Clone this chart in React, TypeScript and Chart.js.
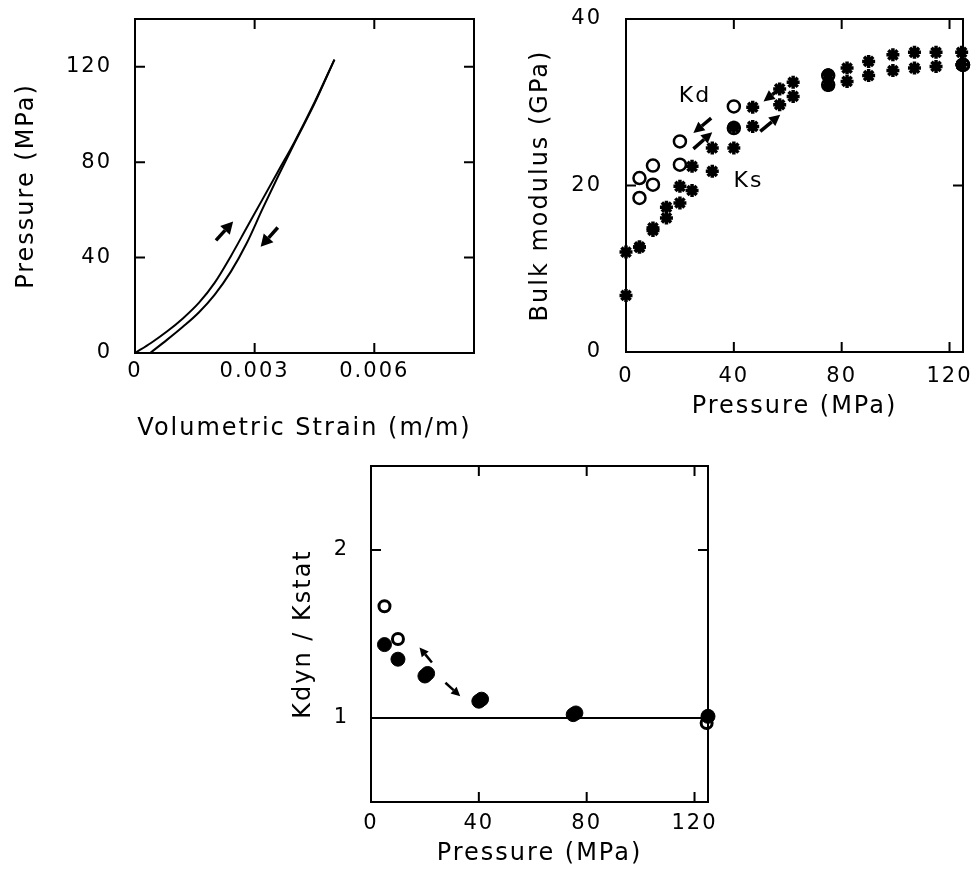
import React, { useEffect, useRef } from "react";
import { Chart, registerables } from "chart.js";
Chart.register(...registerables);

const FONT = "DejaVu Sans";
const LETTER_SPACING = "2px";

// ---------- Panel 1: pressure vs volumetric strain ----------
const P1_STRAIN_UPPER = [0, 0.0004, 0.0008, 0.0012, 0.0016, 0.002, 0.0024, 0.0028, 0.0032, 0.0036, 0.004, 0.0045, 0.005];
const P1_PRESSURE_UPPER = [0, 4.2, 9, 14.5, 21, 29.5, 40.5, 52.5, 64.5, 76.5, 88.5, 105, 123];
const P1_STRAIN_LOWER = [0.00038, 0.0008, 0.0012, 0.0016, 0.002, 0.0024, 0.0028, 0.0032, 0.0036, 0.004, 0.0045, 0.005];
const P1_PRESSURE_LOWER = [0, 5.5, 11, 17, 24.5, 34, 46, 60.5, 74.5, 88, 104.5, 123];
const P1_X_TICKS = [0, 0.003, 0.006];
const P1_X_LABELS = ["0", "0.003", "0.006"];
const P1_Y_TICKS = [0, 40, 80, 120];
const P1_Y_LABELS = ["0", "40", "80", "120"];
const P1_ARROWS: number[][] = [
  [0.00203, 47.2, 0.00246, 55.1],
  [0.00358, 52.6, 0.00315, 44.5],
];

// ---------- Panel 2: bulk modulus vs pressure ----------
const KD_P = [5, 10, 20, 40, 75, 125];
const KD_UPPER = [20.9, 22.4, 25.3, 29.5, 33.2, 34.5];
const KD_LOWER = [18.5, 20.1, 22.5, 26.9, 32.1, 34.5];
const KS_P = [0, 5, 10, 15, 20, 24.5, 32, 40, 47, 57, 62, 75, 82, 90, 99, 107, 115, 124.5];
const KS_UPPER = [12.0, 12.6, 14.9, 17.4, 19.9, 22.3, 24.5, 27.0, 29.4, 31.6, 32.4, 33.3, 34.1, 34.9, 35.7, 36.0, 36.0, 36.0];
const KS_LOWER = [6.8, 12.6, 14.6, 16.1, 17.9, 19.4, 21.7, 24.5, 27.1, 29.7, 30.7, 32.0, 32.5, 33.2, 33.8, 34.1, 34.3, 34.5];
const P2_X_TICKS = [0, 40, 80, 120];
const P2_X_LABELS = ["0", "40", "80", "120"];
const P2_Y_TICKS = [0, 20, 40];
const P2_Y_LABELS = ["0", "20", "40"];
const P2_ARROWS: number[][] = [
  [31.6, 28.1, 25, 26.3],
  [25, 24.4, 32, 26.4],
  [57.8, 31.8, 51, 30.1],
  [49.8, 26.5, 57.2, 28.5],
];
const P2_TEXTS: [string, number, number][] = [
  ["Kd", 25.6, 30.7],
  ["Ks", 45.4, 20.5],
];

// ---------- Panel 3: Kdyn / Kstat vs pressure ----------
const R_OPEN_P = [5, 10, 124.5];
const R_OPEN = [1.665, 1.47, 0.97];
const R_FILLED_P = [5, 10, 20, 40, 75, 125];
const R_FILLED = [1.437, 1.35, 1.25, 1.1, 1.02, 1.01];
const R_FILLED2_P = [21, 41, 76];
const R_FILLED2 = [1.265, 1.112, 1.03];
const R_REF_P = [0, 125];
const R_REF = [1, 1];
const P3_X_TICKS = [0, 40, 80, 120];
const P3_X_LABELS = ["0", "40", "80", "120"];
const P3_Y_TICKS = [1, 2];
const P3_Y_LABELS = ["1", "2"];
const P3_ARROWS: number[][] = [
  [22.6, 1.33, 18, 1.42],
  [27.6, 1.21, 33.1, 1.13],
];

const pts = (xs: number[], ys: number[]) => xs.map((x, i) => ({ x, y: ys[i] }));

function axis(o: {
  min: number; max: number; ticks: number[]; labels: string[]; title: string;
  size: number; tickPad: number; titlePad: number; isX: boolean;
}) {
  return {
    type: "linear",
    min: o.min,
    max: o.max,
    grid: { display: false, drawTicks: false },
    border: { display: false },
    afterBuildTicks: (s: any) => {
      s.ticks = o.ticks.map((v) => ({ value: v }));
    },
    afterFit: (s: any) => {
      if (o.isX) s.height = o.size;
      else s.width = o.size;
      s.paddingTop = 0;
      s.paddingBottom = 0;
      s.paddingLeft = 0;
      s.paddingRight = 0;
    },
    ticks: {
      padding: o.tickPad,
      color: "#000",
      font: { family: FONT, size: 21 },
      maxRotation: 0,
      minRotation: 0,
      autoSkip: false,
      callback: (_v: any, i: number) => o.labels[i],
    },
    title: {
      display: true,
      text: o.title,
      color: "#000",
      font: { family: FONT, size: 24 },
      padding: o.isX ? { top: 0, bottom: o.titlePad } : { top: o.titlePad, bottom: 0 },
    },
  };
}

function drawArrow(ctx: CanvasRenderingContext2D, x1: number, y1: number, x2: number, y2: number, head: number, headW: number, lw: number) {
  const ang = Math.atan2(y2 - y1, x2 - x1);
  const bx = x2 - head * Math.cos(ang);
  const by = y2 - head * Math.sin(ang);
  ctx.lineWidth = lw;
  ctx.beginPath();
  ctx.moveTo(x1, y1);
  ctx.lineTo(bx, by);
  ctx.stroke();
  ctx.beginPath();
  ctx.moveTo(x2, y2);
  ctx.lineTo(bx + (headW / 2) * Math.sin(ang), by - (headW / 2) * Math.cos(ang));
  ctx.lineTo(bx - (headW / 2) * Math.sin(ang), by + (headW / 2) * Math.cos(ang));
  ctx.closePath();
  ctx.fill();
}

function decorPlugin(o: { arrows: number[][]; head: number; headW: number; lw: number; texts?: [string, number, number][] }) {
  return {
    id: "decor",
    beforeUpdate(chart: any) {
      chart.ctx.letterSpacing = LETTER_SPACING;
    },
    beforeDraw(chart: any) {
      chart.ctx.letterSpacing = LETTER_SPACING;
    },
    afterDatasetsDraw(chart: any) {
      const { ctx, chartArea: a, scales } = chart;
      const xs = scales.x;
      const ys = scales.y;
      ctx.save();
      ctx.strokeStyle = "#000";
      ctx.fillStyle = "#000";
      ctx.lineWidth = 2;
      ctx.strokeRect(a.left, a.top, a.right - a.left, a.bottom - a.top);
      const TL = 10;
      ctx.beginPath();
      for (const t of xs.ticks) {
        if (t.value <= xs.min || t.value >= xs.max) continue;
        const px = xs.getPixelForValue(t.value);
        ctx.moveTo(px, a.bottom);
        ctx.lineTo(px, a.bottom - TL);
        ctx.moveTo(px, a.top);
        ctx.lineTo(px, a.top + TL);
      }
      for (const t of ys.ticks) {
        if (t.value <= ys.min || t.value >= ys.max) continue;
        const py = ys.getPixelForValue(t.value);
        ctx.moveTo(a.left, py);
        ctx.lineTo(a.left + TL, py);
        ctx.moveTo(a.right, py);
        ctx.lineTo(a.right - TL, py);
      }
      ctx.stroke();
      for (const ar of o.arrows) {
        drawArrow(
          ctx,
          xs.getPixelForValue(ar[0]), ys.getPixelForValue(ar[1]),
          xs.getPixelForValue(ar[2]), ys.getPixelForValue(ar[3]),
          o.head, o.headW, o.lw
        );
      }
      if (o.texts) {
        ctx.font = `22px "${FONT}"`;
        ctx.textAlign = "center";
        ctx.textBaseline = "middle";
        for (const [s, x, y] of o.texts) {
          ctx.fillText(s, xs.getPixelForValue(x), ys.getPixelForValue(y));
        }
      }
      ctx.restore();
    },
  };
}

function Panel(props: { left: number; top: number; width: number; height: number; make: () => any }) {
  const ref = useRef<HTMLCanvasElement>(null);
  useEffect(() => {
    if (!ref.current) return;
    const chart = new Chart(ref.current, props.make());
    return () => chart.destroy();
  }, []);
  return (
    <canvas
      ref={ref}
      width={props.width}
      height={props.height}
      style={{ position: "absolute", left: props.left, top: props.top, width: props.width, height: props.height }}
    />
  );
}

const baseOptions = (padding: any, scales: any) => ({
  responsive: false,
  animation: false,
  events: [],
  layout: { padding },
  plugins: { legend: { display: false }, tooltip: { enabled: false }, title: { display: false } },
  scales,
});

function panel1() {
  const line = {
    showLine: true, borderColor: "#000", borderWidth: 2, pointRadius: 0,
    cubicInterpolationMode: "monotone", clip: false,
  };
  return {
    type: "scatter",
    data: {
      datasets: [
        { ...line, data: pts(P1_STRAIN_UPPER, P1_PRESSURE_UPPER) },
        { ...line, data: pts(P1_STRAIN_LOWER, P1_PRESSURE_LOWER) },
      ],
    },
    options: baseOptions(
      { left: 0, top: 19, right: 16, bottom: 0 },
      {
        x: axis({ min: 0, max: 0.0085, ticks: P1_X_TICKS, labels: P1_X_LABELS, title: "Volumetric Strain (m/m)", size: 97, tickPad: 6, titlePad: 7, isX: true }),
        y: axis({ min: 0, max: 140, ticks: P1_Y_TICKS, labels: P1_Y_LABELS, title: "Pressure (MPa)", size: 135, tickPad: 23, titlePad: 12, isX: false }),
      }
    ),
    plugins: [decorPlugin({ arrows: P1_ARROWS, head: 12, headW: 13, lw: 3.5 })],
  };
}

function panel2() {
  const circle = { pointStyle: "circle", pointRadius: 6, borderWidth: 2.5, borderColor: "#000", backgroundColor: "rgba(0,0,0,0)", showLine: false, clip: false, order: 0 };
  const star = { pointStyle: "star", pointRadius: 6.5, borderWidth: 3.5, borderColor: "#000", backgroundColor: "#000", showLine: false, clip: false, order: 1 };
  return {
    type: "scatter",
    data: {
      datasets: [
        { ...circle, data: pts(KD_P, KD_UPPER) },
        { ...circle, data: pts(KD_P, KD_LOWER) },
        { ...star, data: pts(KS_P, KS_UPPER) },
        { ...star, data: pts(KS_P, KS_LOWER) },
      ],
    },
    options: baseOptions(
      { left: 0, top: 19, right: 13, bottom: 0 },
      {
        x: axis({ min: 0, max: 125, ticks: P2_X_TICKS, labels: P2_X_LABELS, title: "Pressure (MPa)", size: 98, tickPad: 12, titlePad: 29, isX: true }),
        y: axis({ min: 0, max: 40, ticks: P2_Y_TICKS, labels: P2_Y_LABELS, title: "Bulk modulus (GPa)", size: 136, tickPad: 24, titlePad: 36, isX: false }),
      }
    ),
    plugins: [decorPlugin({ arrows: P2_ARROWS, head: 11, headW: 11, lw: 3.5, texts: P2_TEXTS })],
  };
}

function panel3() {
  const filled = { pointStyle: "circle", pointRadius: 7, borderWidth: 1, borderColor: "#000", backgroundColor: "#000", showLine: false, clip: false, order: 0 };
  const open = { pointStyle: "circle", pointRadius: 5.5, borderWidth: 3, borderColor: "#000", backgroundColor: "rgba(0,0,0,0)", showLine: false, clip: false, order: 1 };
  return {
    type: "scatter",
    data: {
      datasets: [
        { ...filled, data: pts(R_FILLED_P, R_FILLED) },
        { ...filled, data: pts(R_FILLED2_P, R_FILLED2) },
        { ...open, data: pts(R_OPEN_P, R_OPEN) },
        { data: pts(R_REF_P, R_REF), showLine: true, borderColor: "#000", borderWidth: 2, pointRadius: 0, order: 2 },
      ],
    },
    options: baseOptions(
      { left: 0, top: 26, right: 42, bottom: 0 },
      {
        x: axis({ min: 0, max: 125, ticks: P3_X_TICKS, labels: P3_X_LABELS, title: "Pressure (MPa)", size: 69, tickPad: 9, titlePad: 3, isX: true }),
        y: axis({ min: 0.5, max: 2.5, ticks: P3_Y_TICKS, labels: P3_Y_LABELS, title: "Kdyn / Kstat", size: 121, tickPad: 22, titlePad: 39, isX: false }),
      }
    ),
    plugins: [decorPlugin({ arrows: P3_ARROWS, head: 9, headW: 9, lw: 2.5 })],
  };
}

export default function App() {
  return (
    <div style={{ position: "absolute", left: 0, top: 0, width: 976, height: 871, background: "#fff" }}>
      <Panel left={0} top={0} width={490} height={450} make={panel1} />
      <Panel left={490} top={0} width={486} height={450} make={panel2} />
      <Panel left={250} top={440} width={500} height={431} make={panel3} />
    </div>
  );
}
